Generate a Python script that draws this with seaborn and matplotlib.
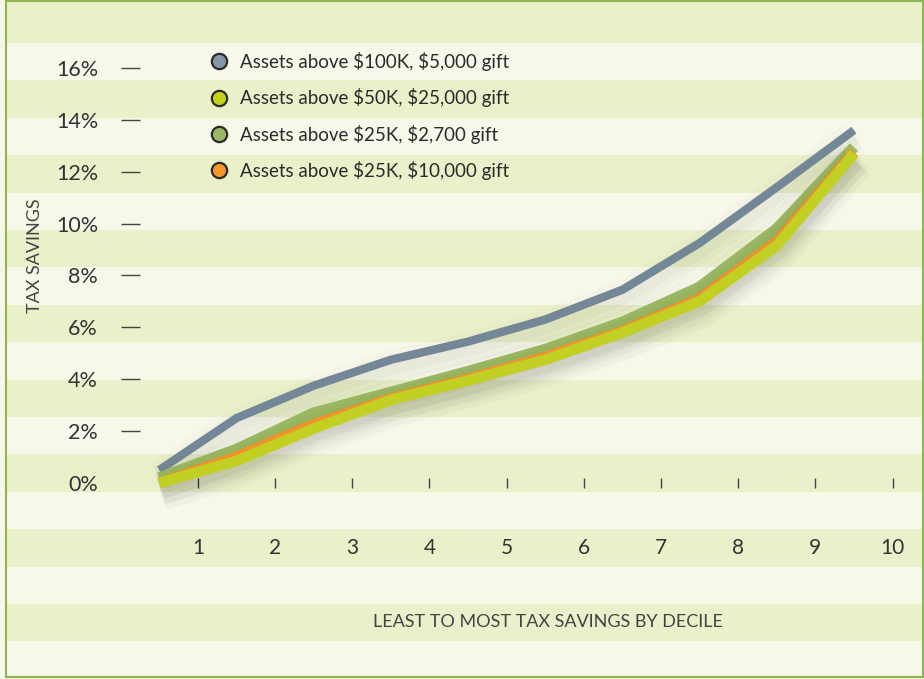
import matplotlib
matplotlib.use("Agg")
import matplotlib.pyplot as plt
import matplotlib.patheffects as pe
from matplotlib.lines import Line2D
from matplotlib.patches import Rectangle
import pandas as pd
import seaborn as sns

# data (tax savings in %, per decile)
deciles = [1, 2, 3, 4, 5, 6, 7, 8, 9, 10]
assets_100k_5000 = [0.5, 2.5, 3.75, 4.75, 5.45, 6.3, 7.45, 9.25, 11.4, 13.6]
assets_50k_25000 = [0.0, 0.85, 2.1, 3.2, 3.95, 4.75, 5.8, 7.0, 9.15, 12.7]
assets_25k_2700 = [0.2, 1.3, 2.7, 3.5, 4.3, 5.15, 6.2, 7.55, 9.8, 12.95]
assets_25k_10000 = [0.0, 1.0, 2.25, 3.25, 4.0, 4.85, 5.85, 7.1, 9.3, 12.75]
y_ticks = [0, 2, 4, 6, 8, 10, 12, 14, 16]

labels = [
    r"Assets above \$100K, \$5,000 gift",
    r"Assets above \$50K, \$25,000 gift",
    r"Assets above \$25K, \$2,700 gift",
    r"Assets above \$25K, \$10,000 gift",
]

sns.set_style("white")
plt.rcParams["font.family"] = ["Lato", "DejaVu Sans"]

fig = plt.figure(figsize=(9.24, 6.79), dpi=100)
fig.patch.set_facecolor("#f7f8ea")

# * striped background + border (pixel coords)
bg = fig.add_axes([0, 0, 1, 1])
bg.set_xlim(0, 924)
bg.set_ylim(679, 0)
bg.axis("off")
edges = [1] + [43 + 37.4 * i for i in range(18)]
for i in range(0, len(edges) - 1, 2):
    a, b = edges[i], min(edges[i + 1], 677)
    if a < 677:
        bg.add_patch(Rectangle((6, a), 917, b - a, facecolor="#eaf0ca", edgecolor="none"))
bg.add_patch(Rectangle((6, 1), 917, 676, facecolor="none", edgecolor="#8fb552", lw=1.5))

# * main axes
ax = fig.add_axes([140 / 924, 196 / 679, 768 / 924, 441 / 679])
ax.set_facecolor("none")
for s in ax.spines.values():
    s.set_visible(False)

df = pd.DataFrame({"decile": deciles})
df["x"] = df["decile"] - 0.5

series = [
    (assets_100k_5000, "#738797", 6.0),
    (assets_25k_2700, "#9ab863", 8.0),
    (assets_25k_10000, "#f4962c", 8.0),
    (assets_50k_25000, "#c2d023", 7.6),
]
for vals, color, lw in series:
    sns.lineplot(x=df["x"], y=vals, color=color, lw=lw, ax=ax, legend=False,
                 solid_joinstyle="miter", solid_capstyle="butt", clip_on=False)
    line = ax.lines[-1]
    line.set_path_effects([
        pe.SimpleLineShadow(offset=(1, -6), shadow_color="k", alpha=0.015, linewidth=lw + 20),
        pe.SimpleLineShadow(offset=(1, -6), shadow_color="k", alpha=0.02, linewidth=lw + 12),
        pe.SimpleLineShadow(offset=(1, -5), shadow_color="k", alpha=0.025, linewidth=lw + 5),
        pe.Normal(),
    ])

ax.set_xlim(0.25, 10.2)
ax.set_ylim(0, 17)
ax.set_xticks(deciles)
ax.set_xticklabels([str(d) for d in deciles])
ax.set_yticks(y_ticks)
ax.set_yticklabels([f"{v}%" for v in y_ticks])
ax.tick_params(axis="y", left=True, length=13.7, width=1, color="#444444",
               pad=16.5, labelsize=15.5, labelcolor="#333333")
ax.tick_params(axis="x", bottom=True, direction="inout", length=7.5, width=1,
               color="#444444", pad=36, labelsize=15, labelcolor="#333333")
ax.yaxis.get_major_ticks()[0].tick1line.set_visible(False)

ax.set_xlabel("LEAST TO MOST TAX SAVINGS BY DECILE", fontsize=13, color="#444444", va="center")
ax.xaxis.set_label_coords((548 - 140) / 768, -(622 - 483) / 441)
ax.set_ylabel("TAX SAVINGS", fontsize=13, color="#444444", va="center")
ax.yaxis.set_label_coords((35 - 140) / 768, (483 - 256) / 441)

# * legend
legend_colors = ["#8497a8", "#c5d11e", "#9bb766", "#f5962b"]
handles = [
    Line2D([], [], ls="none", marker="o", ms=11, mfc=c, mec="#2b2b2b", mew=1.6)
    for c in legend_colors
]
fig.legend(handles, labels, loc="upper left", bbox_to_anchor=(210 / 924, 1 - 52 / 679),
           frameon=False, fontsize=13.5, handlelength=1.0, handletextpad=0.6,
           labelspacing=0.92, borderpad=0, borderaxespad=0, labelcolor="#2b2b2b")

fig.savefig("out.png", dpi=100)
